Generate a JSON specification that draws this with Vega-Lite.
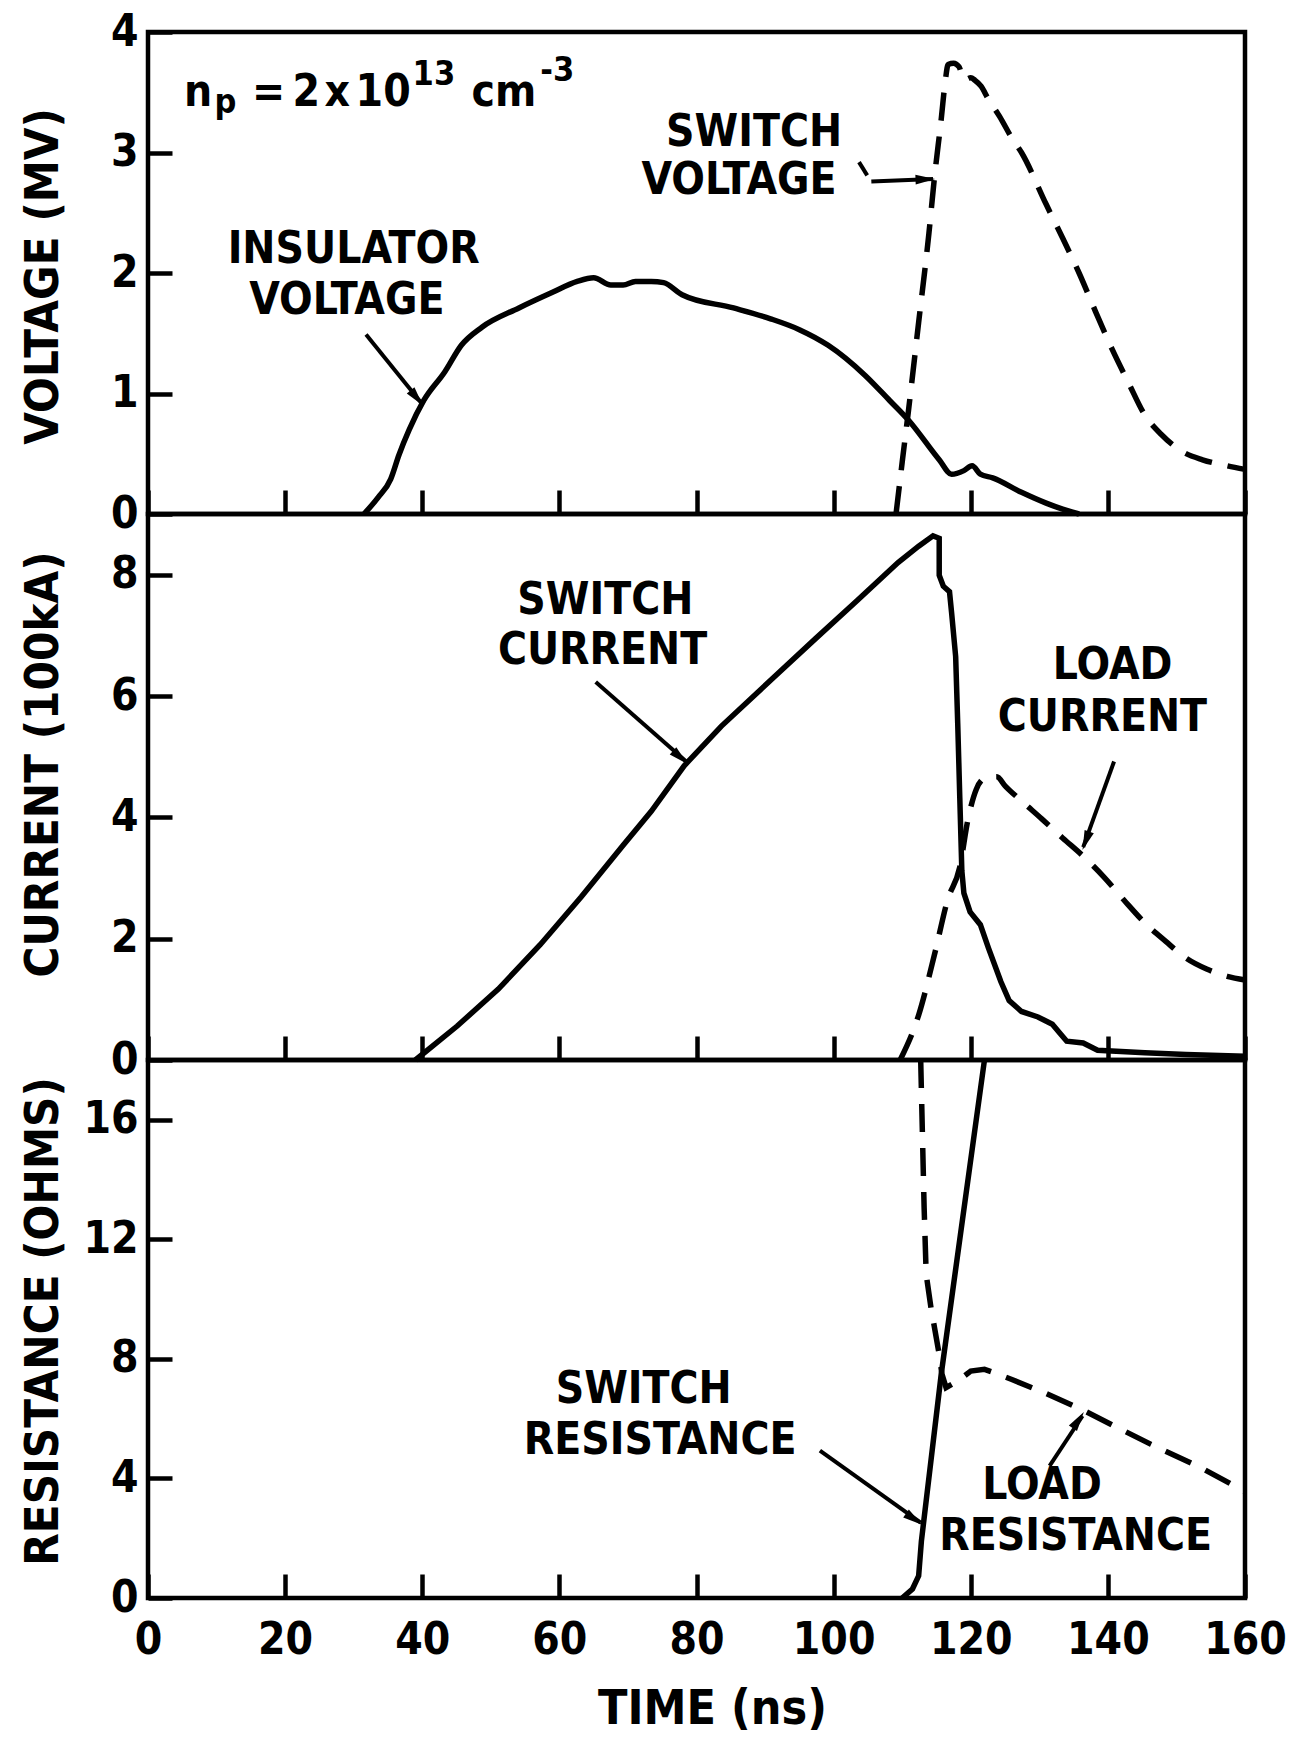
{
  "$schema": "https://vega.github.io/schema/vega-lite/v6.json",
  "autosize": {"type": "pad"},
  "padding": {"left": 16, "top": 7, "right": 5, "bottom": 5},
  "background": "white",
  "spacing": 0,
  "bounds": "flush",
  "config": {
    "view": {"stroke": "black", "strokeWidth": 4.5},
    "font": "DejaVu Sans Condensed",
    "axis": {
      "domain": false, "grid": false,
      "tickColor": "black", "tickWidth": 4.5, "tickSize": -24,
      "labelColor": "black", "labelFont": "DejaVu Sans Condensed", "labelFontWeight": "bold", "labelFontSize": 44,
      "titleColor": "black", "titleFont": "DejaVu Sans Condensed", "titleFontWeight": "bold", "titleFontSize": 47,
      "labelFlush": false, "labelOverlap": false
    },
    "axisY": {"labelPadding": 34},
    "axisX": {"labelPadding": 44},
    "text": {"font": "DejaVu Sans Condensed", "fontWeight": "bold", "fontSize": 44, "color": "black"},
    "line": {"color": "black", "strokeWidth": 5.5},
    "rule": {"color": "black", "strokeWidth": 4},
    "point": {"shape": "M0,0L0.8,3.2L-0.8,3.2Z", "size": 150, "filled": true, "opacity": 1, "color": "black", "strokeWidth": 0}
  },
  "datasets": {
    "insulator": [
      {"t":31.5,"v":0},{"t":33.6,"v":0.14},{"t":35.4,"v":0.29},{"t":36.6,"v":0.49},{"t":38.1,"v":0.70},{"t":40.2,"v":0.94},{"t":43.3,"v":1.18},{"t":45.7,"v":1.40},{"t":48.7,"v":1.55},{"t":54.1,"v":1.71},{"t":59,"v":1.84},{"t":62.6,"v":1.93},{"t":65,"v":1.96},{"t":67.5,"v":1.90},{"t":69.3,"v":1.90},{"t":71.1,"v":1.93},{"t":73.4,"v":1.93},{"t":75.2,"v":1.92},{"t":77.9,"v":1.82},{"t":85.4,"v":1.71},{"t":90.8,"v":1.62},{"t":95,"v":1.53},{"t":99.2,"v":1.40},{"t":104.6,"v":1.15},{"t":108.2,"v":0.94},{"t":110.9,"v":0.78},{"t":115.4,"v":0.45},{"t":117.2,"v":0.33},{"t":119,"v":0.36},{"t":120.2,"v":0.40},{"t":121.4,"v":0.33},{"t":123.2,"v":0.30},{"t":127.4,"v":0.18},{"t":131,"v":0.09},{"t":133.4,"v":0.04},{"t":135.8,"v":0}
    ],
    "switchV": [
      {"t":109.1,"v":0},{"t":110,"v":0.43},{"t":110.9,"v":0.85},{"t":112.4,"v":1.59},{"t":113.9,"v":2.33},{"t":114.7,"v":2.79},{"t":115.7,"v":3.28},{"t":116.3,"v":3.6},{"t":116.7,"v":3.73},{"t":117.5,"v":3.74},{"t":118.3,"v":3.71},{"t":119,"v":3.6},{"t":120,"v":3.62},{"t":120.6,"v":3.6},{"t":121.5,"v":3.55},{"t":122.5,"v":3.45},{"t":124.2,"v":3.3},{"t":126,"v":3.12},{"t":127.4,"v":3.0},{"t":131,"v":2.57},{"t":133.4,"v":2.29},{"t":135.8,"v":2.0},{"t":138.2,"v":1.68},{"t":140.6,"v":1.37},{"t":143,"v":1.09},{"t":145.4,"v":0.82},{"t":147.8,"v":0.66},{"t":150.8,"v":0.52},{"t":153.8,"v":0.45},{"t":157.4,"v":0.40},{"t":160,"v":0.37}
    ],
    "switchI": [
      {"t":39,"v":0},{"t":45.1,"v":0.56},{"t":51.1,"v":1.17},{"t":57.2,"v":1.90},{"t":63.2,"v":2.69},{"t":69.3,"v":3.54},{"t":73.4,"v":4.1},{"t":78.2,"v":4.85},{"t":83.6,"v":5.5},{"t":91.4,"v":6.32},{"t":97.4,"v":6.95},{"t":103.4,"v":7.57},{"t":109.4,"v":8.2},{"t":112.4,"v":8.47},{"t":114.5,"v":8.64},{"t":115.4,"v":8.60},{"t":115.4,"v":7.99},{"t":116,"v":7.81},{"t":116.9,"v":7.72},{"t":117.2,"v":7.38},{"t":117.8,"v":6.65},{"t":118.1,"v":5.55},{"t":118.4,"v":4.33},{"t":118.7,"v":3.12},{"t":119,"v":2.75},{"t":119.9,"v":2.44},{"t":121.4,"v":2.23},{"t":122.6,"v":1.84},{"t":124.4,"v":1.29},{"t":125.6,"v":0.98},{"t":127.4,"v":0.80},{"t":129.8,"v":0.71},{"t":131.9,"v":0.59},{"t":133.1,"v":0.43},{"t":134,"v":0.31},{"t":136.4,"v":0.28},{"t":138.5,"v":0.16},{"t":145.4,"v":0.12},{"t":151.4,"v":0.09},{"t":160,"v":0.06}
    ],
    "loadI": [
      {"t":109.7,"v":0},{"t":112.4,"v":0.74},{"t":114.8,"v":1.78},{"t":116.6,"v":2.63},{"t":118.4,"v":3.18},{"t":119.6,"v":3.97},{"t":120.8,"v":4.46},{"t":122,"v":4.64},{"t":123.8,"v":4.67},{"t":125,"v":4.52},{"t":127.4,"v":4.27},{"t":130.4,"v":3.97},{"t":133.4,"v":3.66},{"t":136.4,"v":3.36},{"t":139.4,"v":3.02},{"t":142.4,"v":2.63},{"t":145.4,"v":2.26},{"t":148.4,"v":1.96},{"t":151.4,"v":1.68},{"t":154.4,"v":1.50},{"t":157.4,"v":1.38},{"t":160,"v":1.32}
    ],
    "switchR": [
      {"t":110,"v":0},{"t":111.5,"v":0.3},{"t":112.4,"v":0.74},{"t":112.8,"v":1.9},{"t":115.7,"v":7.5},{"t":122,"v":18}
    ],
    "loadR": [
      {"t":112.7,"v":18},{"t":113.2,"v":13.06},{"t":113.5,"v":10.83},{"t":114.2,"v":9.71},{"t":115.4,"v":8.15},{"t":115.8,"v":7.49},{"t":116.4,"v":7.04},{"t":118.1,"v":7.26},{"t":120,"v":7.59},{"t":122,"v":7.65},{"t":123.4,"v":7.54},{"t":125.9,"v":7.32},{"t":130.7,"v":6.87},{"t":136.6,"v":6.26},{"t":141.4,"v":5.70},{"t":146.3,"v":5.14},{"t":153.5,"v":4.37},{"t":160,"v":3.56}
    ],
    "labels": [
      {"panel":"V","t":30,"v":2.19,"label":"INSULATOR"},
      {"panel":"V","t":29,"v":1.77,"label":"VOLTAGE"},
      {"panel":"V","t":88.4,"v":3.16,"label":"SWITCH"},
      {"panel":"V","t":86.2,"v":2.76,"label":"VOLTAGE"},
      {"panel":"I","t":66.7,"v":7.57,"label":"SWITCH"},
      {"panel":"I","t":66.3,"v":6.75,"label":"CURRENT"},
      {"panel":"I","t":140.7,"v":6.49,"label":"LOAD"},
      {"panel":"I","t":139.2,"v":5.63,"label":"CURRENT"},
      {"panel":"R","t":72.3,"v":6.96,"label":"SWITCH"},
      {"panel":"R","t":74.7,"v":5.25,"label":"RESISTANCE"},
      {"panel":"R","t":130.4,"v":3.75,"label":"LOAD"},
      {"panel":"R","t":135.3,"v":2.04,"label":"RESISTANCE"}
    ],
    "npMain": [
      {"t":7.3,"v":3.39,"label":"n"},
      {"t":17.6,"v":3.39,"label":"="},
      {"t":23.1,"v":3.39,"label":"2"},
      {"t":27.6,"v":3.39,"label":"x"},
      {"t":34.3,"v":3.39,"label":"10"},
      {"t":51.9,"v":3.39,"label":"cm"}
    ],
    "npSmall": [
      {"t":11.3,"v":3.33,"label":"p"},
      {"t":41.7,"v":3.56,"label":"13"},
      {"t":59.7,"v":3.59,"label":"-3"}
    ],
    "arrows": [
      {"panel":"V","t":31.8,"v":1.49,"t2":39.9,"v2":0.92},
      {"panel":"V","t":105.5,"v":2.76,"t2":114.5,"v2":2.78},
      {"panel":"V","t":103.7,"v":2.92,"t2":104.9,"v2":2.81},
      {"panel":"I","t":65.3,"v":6.23,"t2":78.5,"v2":4.92},
      {"panel":"I","t":140.9,"v":4.92,"t2":136.4,"v2":3.51},
      {"panel":"R","t":98,"v":4.93,"t2":112.7,"v2":2.52},
      {"panel":"R","t":131.5,"v":4.42,"t2":136.3,"v2":6.09}
    ]
  },
  "vconcat": [
    {
      "width": 1097, "height": 482,
      "encoding": {
        "x": {"field": "t", "type": "quantitative", "scale": {"domain": [0, 160]},
              "axis": {"values": [0,20,40,60,80,100,120,140,160], "labels": false, "title": null}},
        "y": {"field": "v", "type": "quantitative", "scale": {"domain": [0, 4]},
              "axis": {"values": [0,1,2,3,4], "title": "VOLTAGE (MV)", "titleX": -91, "titleY": 244, "titleBaseline": "alphabetic", "titleAngle": 270, "titleAlign": "center"}}
      },
      "layer": [
        {"data": {"name": "insulator"}, "mark": {"type": "line", "interpolate": "monotone"}},
        {"data": {"name": "switchV"}, "mark": {"type": "line", "strokeDash": [28, 16], "interpolate": "monotone"}},
        {"data": {"name": "labels"}, "transform": [{"filter": "datum.panel == 'V'"}],
         "mark": {"type": "text", "align": "center", "baseline": "middle"}, "encoding": {"text": {"field": "label"}}},
        {"data": {"name": "npMain"}, "mark": {"type": "text", "align": "center", "baseline": "alphabetic", "fontSize": 44}, "encoding": {"text": {"field": "label"}}},
        {"data": {"name": "npSmall"}, "mark": {"type": "text", "align": "center", "baseline": "alphabetic", "fontSize": 34}, "encoding": {"text": {"field": "label"}}},
        {"data": {"name": "arrows"}, "transform": [{"filter": "datum.panel == 'V'"}],
         "mark": {"type": "rule"}, "encoding": {"x2": {"field": "t2"}, "y2": {"field": "v2"}}},
        {"data": {"values": [{"t": 40.1, "v": 0.9}]}, "mark": {"type": "point", "angle": 141}},
        {"data": {"values": [{"t": 114.8, "v": 2.78}]}, "mark": {"type": "point", "angle": 88}}
      ]
    },
    {
      "width": 1097, "height": 546,
      "encoding": {
        "x": {"field": "t", "type": "quantitative", "scale": {"domain": [0, 160]},
              "axis": {"values": [0,20,40,60,80,100,120,140,160], "labels": false, "title": null}},
        "y": {"field": "v", "type": "quantitative", "scale": {"domain": [0, 9]},
              "axis": {"values": [0,2,4,6,8], "title": "CURRENT (100kA)", "titleX": -91, "titleY": 250, "titleBaseline": "alphabetic", "titleAngle": 270, "titleAlign": "center"}}
      },
      "layer": [
        {"data": {"name": "switchI"}, "mark": {"type": "line"}},
        {"data": {"name": "loadI"}, "mark": {"type": "line", "strokeDash": [28, 16], "interpolate": "monotone"}},
        {"data": {"name": "labels"}, "transform": [{"filter": "datum.panel == 'I'"}],
         "mark": {"type": "text", "align": "center", "baseline": "middle"}, "encoding": {"text": {"field": "label"}}},
        {"data": {"name": "arrows"}, "transform": [{"filter": "datum.panel == 'I'"}],
         "mark": {"type": "rule"}, "encoding": {"x2": {"field": "t2"}, "y2": {"field": "v2"}}},
        {"data": {"values": [{"t": 78.7, "v": 4.88}]}, "mark": {"type": "point", "angle": 132}},
        {"data": {"values": [{"t": 136.3, "v": 3.46}]}, "mark": {"type": "point", "angle": 200}}
      ]
    },
    {
      "width": 1097, "height": 538,
      "encoding": {
        "x": {"field": "t", "type": "quantitative", "scale": {"domain": [0, 160]},
              "axis": {"values": [0,20,40,60,80,100,120,140,160], "title": "TIME (ns)", "titleX": 564, "titleY": 125, "titleBaseline": "alphabetic", "titleFontSize": 48, "titleAlign": "center"}},
        "y": {"field": "v", "type": "quantitative", "scale": {"domain": [0, 18]},
              "axis": {"values": [0,4,8,12,16], "title": "RESISTANCE (OHMS)", "titleX": -91, "titleY": 261, "titleBaseline": "alphabetic", "titleAngle": 270, "titleAlign": "center"}}
      },
      "layer": [
        {"data": {"name": "switchR"}, "mark": {"type": "line"}},
        {"data": {"name": "loadR"}, "mark": {"type": "line", "strokeDash": [28, 16]}},
        {"data": {"name": "labels"}, "transform": [{"filter": "datum.panel == 'R'"}],
         "mark": {"type": "text", "align": "center", "baseline": "middle"}, "encoding": {"text": {"field": "label"}}},
        {"data": {"name": "arrows"}, "transform": [{"filter": "datum.panel == 'R'"}],
         "mark": {"type": "rule"}, "encoding": {"x2": {"field": "t2"}, "y2": {"field": "v2"}}},
        {"data": {"values": [{"t": 112.9, "v": 2.45}]}, "mark": {"type": "point", "angle": 125}},
        {"data": {"values": [{"t": 136.5, "v": 6.22}]}, "mark": {"type": "point", "angle": 34}}
      ]
    }
  ]
}
